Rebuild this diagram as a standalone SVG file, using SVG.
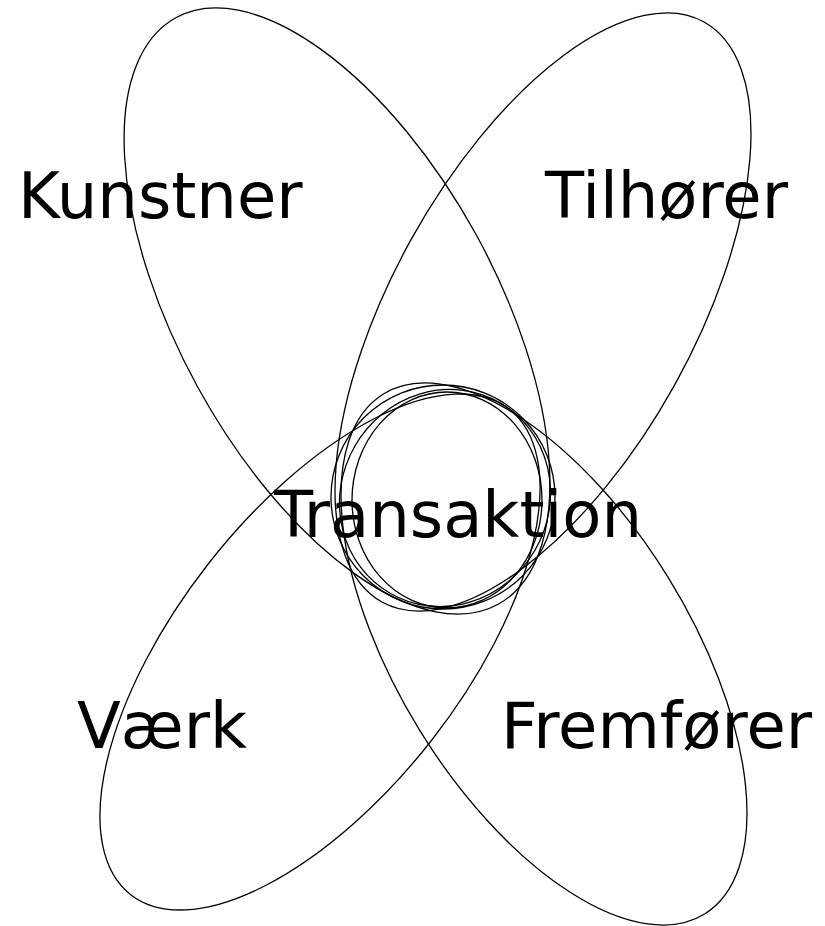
<svg xmlns="http://www.w3.org/2000/svg" width="825" height="926" viewBox="0 0 825 926">
<style>
.e{fill:none;stroke:#000;stroke-width:1.3}
.t{font-family:"DejaVu Sans","Liberation Sans",sans-serif;font-size:64px;fill:#000}
</style>
<rect width="825" height="926" fill="#fff"/>
<g id="kunstner">
<ellipse class="e" cx="337" cy="311" rx="334.6" ry="158.7" transform="rotate(61.2 337 311)"/>
<text class="t" x="18" y="218">Kunstner</text>
</g>
<g id="tilhorer">
<ellipse class="e" cx="543" cy="312" rx="331.7" ry="150.5" transform="rotate(-60.95 543 312)"/>
<text class="t" x="545" y="218">Tilhører</text>
</g>
<g id="vaerk">
<ellipse class="e" cx="320" cy="652" rx="307.8" ry="142.3" transform="rotate(-52.05 320 652)"/>
<text class="t" x="77" y="748">Værk</text>
</g>
<g id="fremforer">
<ellipse class="e" cx="544" cy="654" rx="305.6" ry="145.9" transform="rotate(58.3 544 654)"/>
<text class="t" x="501" y="748">Fremfører</text>
</g>
<g id="transaktion">
<ellipse class="e" cx="443" cy="497" rx="112" ry="112"/>
<ellipse class="e" cx="447" cy="500" rx="95" ry="108"/>
<ellipse class="e" cx="445" cy="498" rx="104" ry="110" transform="rotate(30 445 498)"/>
<text class="t" x="274" y="537">Transaktion</text>
</g>
<g id="connectors"/>
</svg>
